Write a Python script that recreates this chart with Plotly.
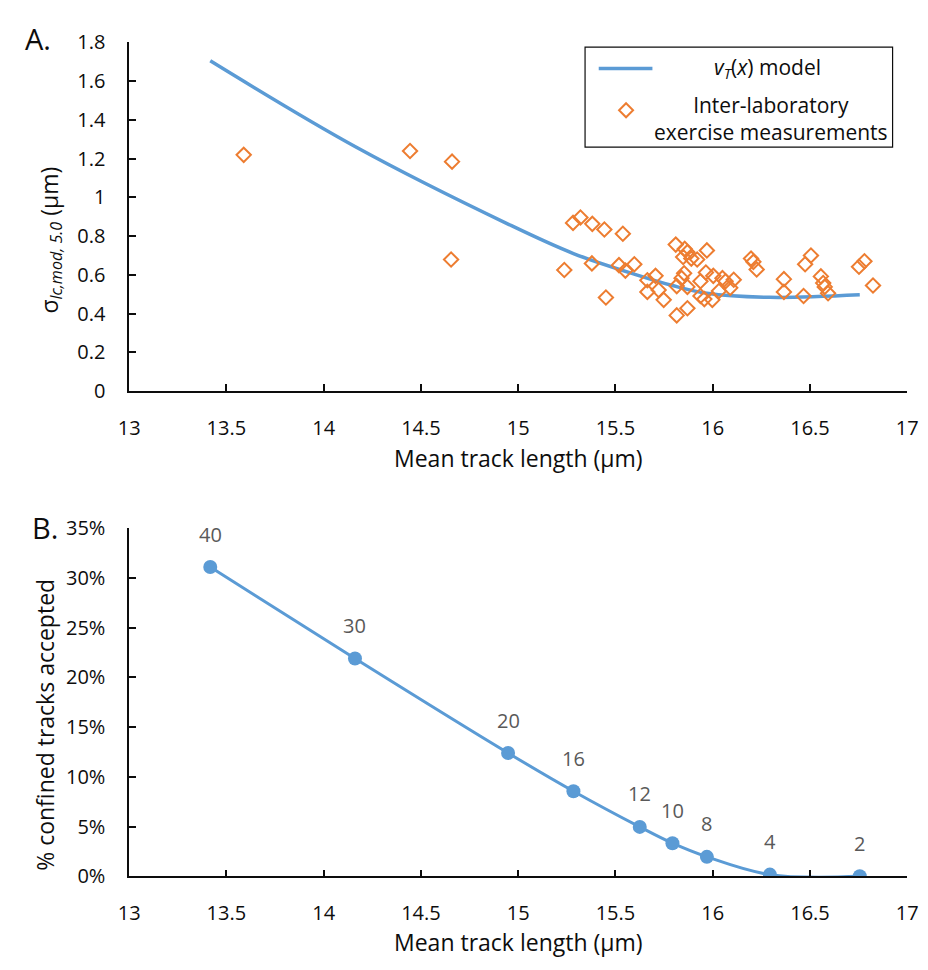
import plotly.graph_objects as go

# ---- data -------------------------------------------------------------
# Mean track length at each rank cut-off (shared by both panels)
mean_length = [13.417, 14.161, 14.948, 15.284, 15.625, 15.793, 15.970, 16.294, 16.756]
# Modelled sigma (um) along the v_T(x) curve
model_sigma = [1.704, 1.262, 0.862, 0.710, 0.595, 0.545, 0.505, 0.484, 0.497]
# Fraction of confined tracks accepted
accepted_frac = [0.311, 0.219, 0.124, 0.0856, 0.0497, 0.0333, 0.0196, 0.0017, 0.0]
cutoff_labels = ["40", "30", "20", "16", "12", "10", "8", "4", "2"]

# Inter-laboratory exercise measurements
lab_length = [13.589, 14.444, 14.660, 14.655, 15.237, 15.282, 15.320, 15.381, 15.443, 15.538,
              15.379, 15.451, 15.518, 15.551, 15.597, 15.664, 15.706, 15.664, 15.722, 15.748,
              15.810, 15.856, 15.870, 15.848, 15.890, 15.920, 15.970, 15.853, 15.840, 15.815,
              15.870, 15.937, 15.965, 16.003, 16.050, 16.066, 16.108, 16.090, 16.032, 15.937,
              15.957, 15.998, 15.815, 15.870, 16.197, 16.209, 16.226, 16.505, 16.475, 16.366,
              16.366, 16.467, 16.556, 16.568, 16.576, 16.593, 16.752, 16.780, 16.824]
lab_sigma = [1.219, 1.239, 1.184, 0.679, 0.625, 0.868, 0.896, 0.863, 0.834, 0.812,
             0.659, 0.483, 0.650, 0.622, 0.655, 0.572, 0.595, 0.512, 0.522, 0.471,
             0.756, 0.734, 0.717, 0.692, 0.684, 0.679, 0.726, 0.608, 0.583, 0.542,
             0.538, 0.567, 0.612, 0.595, 0.583, 0.567, 0.575, 0.533, 0.517, 0.491,
             0.475, 0.471, 0.391, 0.428, 0.684, 0.667, 0.628, 0.700, 0.655, 0.578,
             0.512, 0.491, 0.592, 0.558, 0.538, 0.505, 0.642, 0.670, 0.545]

# ---- styling ----------------------------------------------------------
W, H = 928, 970
FONT = "Open Sans"
BLUE = "#5B9BD5"
ORANGE = "#ED7D31"
GREY = "#595959"
INK = "#0d0d0d"


def px(x):
    return x / W


def py(y):
    return 1 - y / H


fig = go.Figure()

# Panel A: model curve + measurements
fig.add_trace(go.Scatter(
    x=mean_length, y=model_sigma, mode="lines",
    line=dict(color=BLUE, width=3.5, shape="spline", smoothing=1.0),
    xaxis="x", yaxis="y", showlegend=False, hoverinfo="skip"))
fig.add_trace(go.Scatter(
    x=lab_length, y=lab_sigma, mode="markers",
    marker=dict(symbol="diamond-open", size=11, color=ORANGE, line=dict(width=2, color=ORANGE)),
    xaxis="x", yaxis="y", showlegend=False))

# Panel B: acceptance fraction
fig.add_trace(go.Scatter(
    x=mean_length, y=accepted_frac, mode="lines+markers",
    line=dict(color=BLUE, width=3, shape="spline", smoothing=1.0),
    marker=dict(symbol="circle", size=14, color=BLUE),
    xaxis="x2", yaxis="y2", showlegend=False))

axis_common = dict(
    showline=True, linecolor=INK, linewidth=1.5,
    ticks="inside", ticklen=7, tickwidth=1.5, tickcolor=INK,
    showgrid=False, zeroline=False, mirror=False,
    tickfont=dict(family=FONT, size=20, color=INK),
    ticklabeloverflow="allow",
)

x_dom = [px(121), px(918)]
fig.update_layout(
    width=W, height=H,
    margin=dict(l=0, r=0, t=0, b=0),
    paper_bgcolor="white", plot_bgcolor="white",
    font=dict(family=FONT, color=INK),
    xaxis=dict(domain=x_dom, range=[13, 17], dtick=0.5, anchor="y", ticklabelstandoff=18,
               **axis_common),
    yaxis=dict(domain=[py(388), py(29)], range=[0, 1.8], dtick=0.2, anchor="x",
               ticklabelstandoff=18, **axis_common),
    xaxis2=dict(domain=x_dom, range=[13, 17], dtick=0.5, anchor="y2", ticklabelstandoff=18,
                **axis_common),
    yaxis2=dict(domain=[py(887), py(529)], range=[0, 0.35], dtick=0.05, tickformat=".0%",
                anchor="x2", ticklabelstandoff=18, **axis_common),
)

annotations = []
# value labels above each acceptance point
for xv, yv, lab in zip(mean_length, accepted_frac, cutoff_labels):
    annotations.append(dict(x=xv, y=yv, xref="x2", yref="y2", text=lab, showarrow=False,
                            xanchor="center", yanchor="middle", yshift=33,
                            font=dict(family=FONT, size=20, color=GREY)))


def paper_text(x, y, text, size, angle=0, color=INK):
    return dict(x=px(x), y=py(y), xref="paper", yref="paper", text=text, showarrow=False,
                xanchor="center", yanchor="middle", textangle=angle, align="center",
                font=dict(family=FONT, size=size, color=color))


annotations += [
    paper_text(520, 457, "Mean track length (µm)", 23),
    paper_text(520, 955, "Mean track length (µm)", 23),
    paper_text(40, 233, "σ<sub><i>lc,mod, 5.0</i></sub> (µm)", 23, angle=-90),
    paper_text(34, 731, "% confined tracks accepted", 23, angle=-90),
    paper_text(28, 25, "A.", 29),
    paper_text(35, 528, "B.", 29),
    # legend text
    paper_text(775, 56, "<i>v</i><sub><i>T</i></sub>(<i>x</i>) model", 21),
    paper_text(778, 107, "Inter-laboratory<br>exercise measurements", 21),
]
fig.update_layout(annotations=annotations)

# legend box and glyphs
shapes = [
    dict(type="rect", xref="paper", yref="paper", x0=px(588), x1=px(903), y0=py(137), y1=py(34),
         line=dict(color=INK, width=1.2), fillcolor="white", layer="below"),
    dict(type="line", xref="paper", yref="paper", x0=px(602), x1=px(657), y0=py(56), y1=py(56),
         line=dict(color=BLUE, width=3.5)),
    dict(type="path", xref="paper", yref="paper", xsizemode="pixel", ysizemode="pixel",
         xanchor=px(630), yanchor=py(99), path="M 0 7 L 7 0 L 0 -7 L -7 0 Z",
         line=dict(color=ORANGE, width=2)),
]
fig.update_layout(shapes=shapes)

fig.write_html("out.html")
